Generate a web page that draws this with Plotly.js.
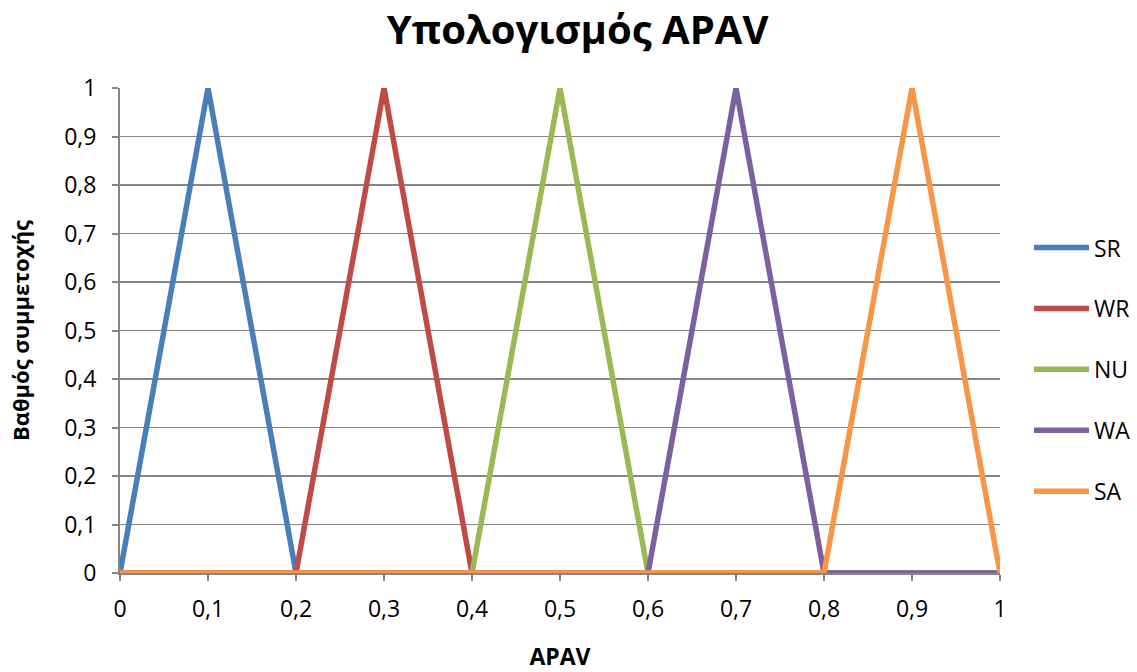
<!DOCTYPE html>
<html>
<head>
<meta charset="utf-8">
<script src="https://cdn.plot.ly/plotly-3.0.1.min.js"></script>
<style>
  html, body { margin: 0; padding: 0; background: #ffffff; }
  #chart { width: 1137px; height: 672px; }
</style>
</head>
<body>
<div id="chart"></div>
<script>
// APAV values on the horizontal axis
const apav = [0, 0.1, 0.2, 0.3, 0.4, 0.5, 0.6, 0.7, 0.8, 0.9, 1];

// Membership degree of each fuzzy set
const srValues = [0, 1, 0, 0, 0, 0, 0, 0, 0, 0, 0];
const wrValues = [0, 0, 0, 1, 0, 0, 0, 0, 0, 0, 0];
const nuValues = [0, 0, 0, 0, 0, 1, 0, 0, 0, 0, 0];
const waValues = [0, 0, 0, 0, 0, 0, 0, 1, 0, 0, 0];
const saValues = [0, 0, 0, 0, 0, 0, 0, 0, 0, 1, 0];

const seriesNames = ['SR', 'WR', 'NU', 'WA', 'SA'];
const seriesValues = [srValues, wrValues, nuValues, waValues, saValues];
const seriesColors = ['#4A7EBB', '#BE4B48', '#98B954', '#7D60A0', '#F79646'];

const font = '"Open Sans", "Noto Sans", sans-serif';

const traces = seriesNames.map((name, i) => ({
  type: 'scatter',
  mode: 'lines',
  name: name,
  legendgroup: name,
  x: apav,
  y: seriesValues[i],
  line: { color: seriesColors[i], width: 5.5 },
  hoverinfo: 'x+y+name'
}));

const layout = {
  width: 1137,
  height: 672,
  paper_bgcolor: '#ffffff',
  plot_bgcolor: '#ffffff',
  separators: ',.',
  margin: { l: 120, r: 137, t: 88, b: 99 },
  font: { family: font, color: '#000000', size: 23 },
  title: {
    text: '<b>Υπολογισμός APAV</b>',
    font: { family: font, size: 40, color: '#000000' },
    x: 0.508, xanchor: 'center',
    y: 0.955, yanchor: 'middle'
  },
  xaxis: {
    range: [0, 1],
    tickvals: apav,
    ticks: 'outside', ticklen: 6, tickwidth: 2, tickcolor: '#868686',
    ticklabelstandoff: 8,
    showgrid: false,
    zeroline: false,
    showline: true, linecolor: '#868686', linewidth: 2,
    tickfont: { family: font, size: 23 },
    title: { text: '<b>APAV</b>', font: { family: font, size: 23 }, standoff: 30 }
  },
  yaxis: {
    range: [0, 1],
    dtick: 0.1,
    ticks: 'outside', ticklen: 6, tickwidth: 2, tickcolor: '#868686',
    ticklabelstandoff: 11,
    showgrid: true, gridcolor: '#868686', gridwidth: 1.5,
    zeroline: false,
    showline: true, linecolor: '#868686', linewidth: 2,
    tickfont: { family: font, size: 23 },
    title: { text: '<b>Βαθμός συμμετοχής</b>', font: { family: font, size: 22 }, standoff: 28 }
  },
  legend: {
    xref: 'container', yref: 'container',
    x: 0.905, xanchor: 'left',
    y: 0.45, yanchor: 'middle',
    font: { family: font, size: 23 },
    itemwidth: 55,
    tracegroupgap: 28,
    traceorder: 'grouped',
    bgcolor: 'rgba(0,0,0,0)'
  },
  showlegend: true
};

Plotly.newPlot('chart', traces, layout, { displayModeBar: false, staticPlot: true });
</script>
</body>
</html>
